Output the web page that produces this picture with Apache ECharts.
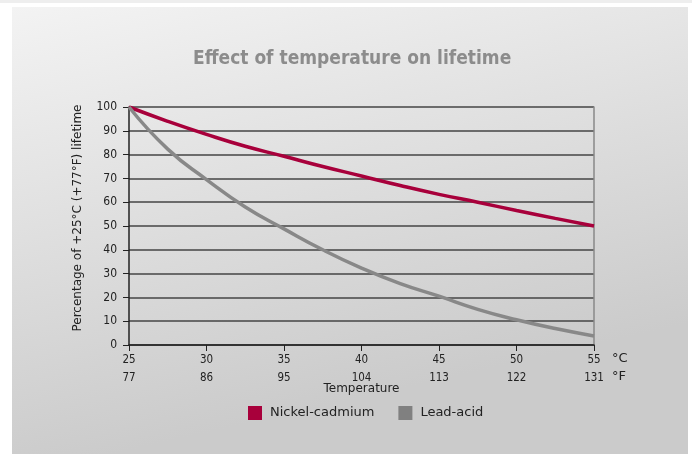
<!DOCTYPE html>
<html><head><meta charset="utf-8">
<script src="https://cdn.jsdelivr.net/npm/echarts@6/dist/echarts.min.js"></script>
<style>html,body{margin:0;padding:0;background:#fff;}#c{width:692px;height:454px;}</style>
</head><body><div id="c"></div>
<script>
const celsiusTicks = [25, 30, 35, 40, 45, 50, 55];
const fahrenheitTicks = [77, 86, 95, 104, 113, 122, 131];
const yTicks = [0,10,20,30,40,50,60,70,80,90,100];
const tempC = [25, 27.5, 30, 32.5, 35, 37.5, 40, 42.5, 45, 47.5, 50, 52.5, 55];
const nickelCadmium = [100, 94, 88.5, 83.5, 79.3, 75, 71, 67, 63.3, 60, 56.5, 53.2, 50];
const leadAcid = [100, 82.3, 69.5, 58, 48.8, 40, 32.3, 25.8, 20.5, 15, 10.6, 6.9, 3.8];

const narrow = '"Liberation Sans Narrow","DejaVu Sans Condensed",sans-serif';
const chart = echarts.init(document.getElementById('c'));
chart.setOption({
  animation: false,
  graphic: [
    {type:'rect', z:-10, shape:{x:0,y:0,width:692,height:3}, style:{fill:'#eeeeee'}},
    {type:'rect', z:-10, shape:{x:12,y:7,width:676,height:447},
     style:{fill:new echarts.graphic.LinearGradient(0,0,0.15,1,[{offset:0,color:'#f3f3f3'},{offset:1,color:'#cbcbcb'}])}},
    {type:'text', x:361.5, y:389, style:{text:'Temperature', align:'center', verticalAlign:'middle',
      font:'12px "DejaVu Sans",sans-serif', fill:'#222'}},
    {type:'text', x:78, y:218, rotation:Math.PI/2, style:{text:'Percentage of +25°C (+77°F) lifetime', align:'center', verticalAlign:'middle',
      font:'12px "DejaVu Sans",sans-serif', fill:'#222'}}
  ],
  title: {text:'Effect of temperature on lifetime', left:188, top:45,
    textStyle:{color:'#8c8c8c', fontSize:19, fontWeight:'bold', fontFamily:'"DejaVu Sans Condensed",sans-serif'}},
  legend: {bottom:29, left:243, itemWidth:14, itemHeight:14, itemGap:24, icon:'rect',
    textStyle:{fontSize:13, color:'#222', fontFamily:'"DejaVu Sans",sans-serif', padding:[0,0,0,3]},
    data:['Nickel-cadmium','Lead-acid']},
  grid: {left:129, right:98, top:107, bottom:109},
  xAxis: {type:'value', min:25, max:55, interval:5,
    name:'°C\n°F', nameLocation:'end', nameGap:18,
    nameTextStyle:{fontSize:13, lineHeight:18, color:'#222', verticalAlign:'top', padding:[5,0,0,0], fontFamily:'"DejaVu Sans",sans-serif'},
    axisLine:{lineStyle:{color:'#222', width:1.5}},
    axisTick:{show:true, length:6, lineStyle:{color:'#222'}},
    axisLabel:{color:'#222', fontSize:11.5, lineHeight:18, margin:6, fontFamily:narrow,
      formatter: v => { const i = celsiusTicks.indexOf(v); return i<0 ? '' : celsiusTicks[i] + '\n' + fahrenheitTicks[i]; }},
    splitLine:{show:false}},
  yAxis: [{type:'value', min:0, max:100, interval:10,
    axisLine:{show:true, lineStyle:{color:'#222', width:1.5}},
    axisTick:{show:true, length:6, lineStyle:{color:'#222'}},
    axisLabel:{color:'#222', fontSize:12, margin:12, fontFamily:narrow,
      formatter: v => yTicks.includes(v) ? String(v) : ''},
    splitLine:{show:true, lineStyle:{color:'#444444', width:1.6}}},
   {type:'value', min:0, max:100, position:'right', axisLine:{show:true, lineStyle:{color:'#888', width:1.5}},
    axisTick:{show:false}, axisLabel:{show:false}, splitLine:{show:false}}],
  series: [
    {name:'Nickel-cadmium', type:'line', smooth:true, symbol:'none', color:'#a8003b',
     lineStyle:{width:3.5, color:'#a8003b'}, data: tempC.map((c,i)=>[c, nickelCadmium[i]])},
    {name:'Lead-acid', type:'line', smooth:true, symbol:'none', color:'#808080',
     lineStyle:{width:3.5, color:'#888888'}, data: tempC.map((c,i)=>[c, leadAcid[i]])}
  ]
});
</script></body></html>
